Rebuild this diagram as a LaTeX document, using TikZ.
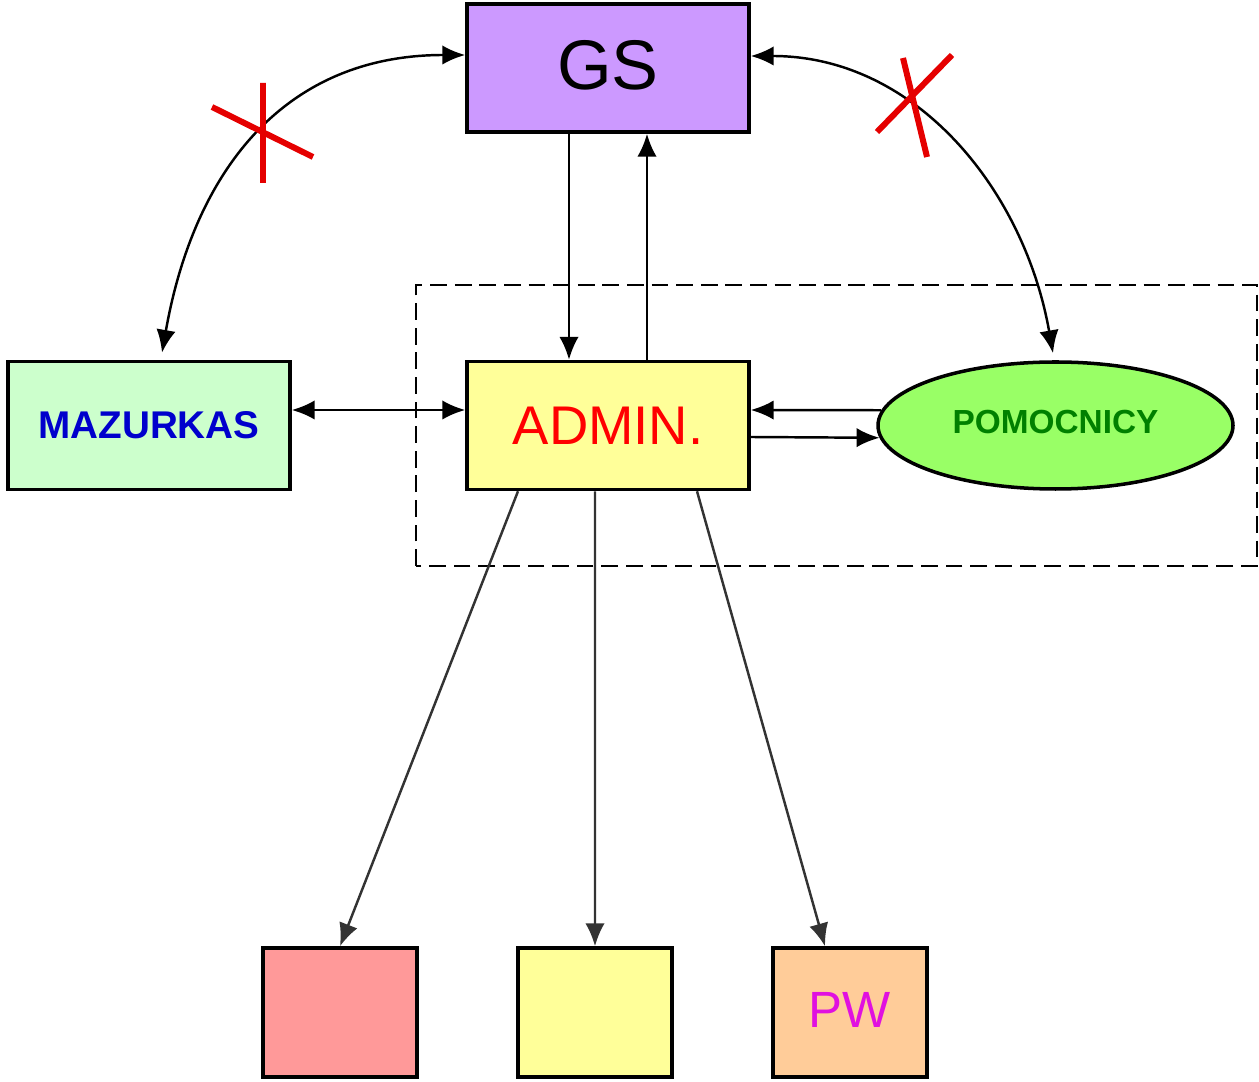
\documentclass[tikz,border=0pt]{standalone}
\usepackage{fontspec}
\setmainfont{Liberation Sans}
\usetikzlibrary{shapes,arrows.meta}
\definecolor{fiolet}{HTML}{CC99FF}
\definecolor{zolty}{HTML}{FFFF99}
\definecolor{mieta}{HTML}{CCFFCC}
\definecolor{trawa}{HTML}{99FF66}
\definecolor{roz}{HTML}{FF9999}
\definecolor{brzoskwinia}{HTML}{FFCC99}
\definecolor{fuksja}{HTML}{E010E0}
\tikzset{blok/.style={draw,rectangle,line width=2pt,inner sep=0pt,minimum width=5.64cm,minimum height=2.56cm},
  malyblok/.style={blok,minimum width=3.08cm,minimum height=2.58cm},
  strz/.style={line width=1.4pt,>={Latex[length=13pt,width=11pt]}}}
\newcommand{\blok}[5]{\node[blok,fill=#4] (#1) at (#2,#3) {#5};}
\newcommand{\maly}[5]{\node[malyblok,fill=#4] (#1) at (#2,#3) {#5};}
\newcommand{\link}[2]{\draw[strz,->] (#1) -- (#2);}
\newcommand{\linkDwa}[2]{\draw[strz,<->] (#1) -- (#2);}
\newcommand{\linkDol}[2]{\draw[strz,->,black!80] (#1) -- (#2);}
\newcommand{\krzyzyk}[4]{\draw[red!90!black,line width=3.4pt] (#1) -- (#2) (#3) -- (#4);}

\begin{document}
\begin{tikzpicture}
    \useasboundingbox (0,0) rectangle (25.18,21.62);
    \draw[line width=1.6pt,dash pattern=on 9.5pt off 4.5pt] (8.32,10.3) rectangle (25.14,15.92);
    \blok{gs}{12.16}{20.26}{fiolet}{\fontsize{40}{48}\selectfont\raisebox{0.14cm}{GS}}
    \blok{admin}{12.16}{13.11}{zolty}{\fontsize{31}{37}\selectfont\color{red}ADMIN.}
    \blok{maz}{2.98}{13.11}{mieta}{\fontsize{22}{26}\selectfont\bfseries\color{blue!80!black}MAZURKAS}
    \node[ellipse,draw,line width=2pt,fill=trawa,inner sep=0pt,minimum width=7.1cm,minimum height=2.54cm] (pom) at (21.11,13.11) {\fontsize{19}{23}\selectfont\bfseries\color{green!50!black}\raisebox{0.16cm}{POMOCNICY}\hspace{0.28cm}};
    \maly{m1}{6.8}{1.37}{roz}{}    \maly{m2}{11.9}{1.37}{zolty}{}
    \maly{pw}{17.0}{1.37}{brzoskwinia}{\fontsize{29}{35}\selectfont\color{fuksja}\raisebox{0.1cm}{PW}}
    \link{[xshift=-0.78cm]gs.south}{[xshift=-0.78cm]admin.north}
    \link{[xshift=0.78cm]admin.north}{[xshift=0.78cm]gs.south}
    \linkDwa{[yshift=0.31cm]maz.east}{[yshift=0.31cm]admin.west}
    \link{pom.175}{[yshift=0.31cm]admin.east}
    \link{[yshift=-0.23cm]admin.east}{pom.184}
    \linkDol{[xshift=-1.8cm]admin.south}{m1.north}
    \linkDol{[xshift=-0.26cm]admin.south}{m2.north}
    \linkDol{[xshift=1.78cm]admin.south}{[xshift=-0.5cm]pw.north}
    \draw[strz,<->] ([yshift=0.26cm]gs.west) to[out=180,in=80,looseness=1.1] ([xshift=0.26cm,yshift=0.14cm]maz.north);
    \draw[strz,<->] ([yshift=0.24cm]gs.east) to[out=0,in=100] ([xshift=-0.05cm,yshift=0.14cm]pom.north);
    \krzyzyk{5.26,19.96}{5.26,17.96}{4.24,19.48}{6.26,18.48}
    \krzyzyk{18.06,20.46}{18.54,18.48}{19.04,20.52}{17.54,18.98}
\end{tikzpicture}
\end{document}
